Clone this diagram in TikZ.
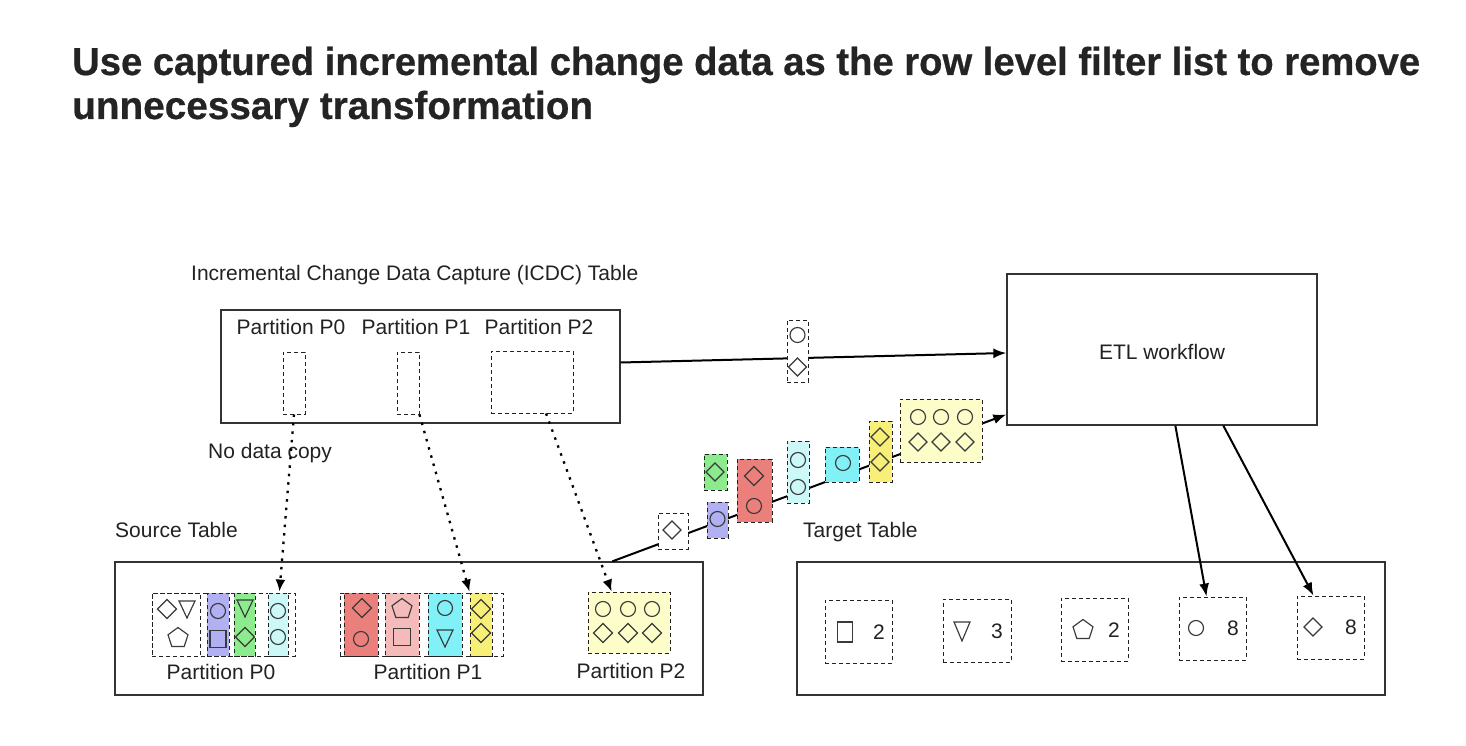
\documentclass[tikz,border=0pt]{standalone}
\usepackage{fontspec}
\setmainfont{Liberation Sans}
\newfontfamily\titlefont[FakeBold=0.6]{Liberation Sans Bold}
\usetikzlibrary{arrows.meta,fit,calc}
\definecolor{ink}{HTML}{222222}
\definecolor{titlec}{HTML}{242424}
\definecolor{boxc}{HTML}{333333}
\definecolor{shpc}{HTML}{3A3A3A}
\definecolor{lav}{HTML}{B0B0F2}
\definecolor{grn}{HTML}{8CEB8C}
\definecolor{redc}{HTML}{EB7F7B}
\definecolor{pinkc}{HTML}{F5BBBB}
\definecolor{cyanc}{HTML}{82F0F7}
\definecolor{lcyan}{HTML}{CCF8F8}
\definecolor{yel}{HTML}{F8EF78}
\definecolor{lyel}{HTML}{FDFDC9}
\newcommand\Dia[3][9.5]{\draw[shp] (#2,#3) +(0,-#1) -- +(#1,0) -- +(0,#1) -- +(-#1,0) -- cycle;}
\newcommand\Cir[3][7.5]{\draw[shp] (#2,#3) circle (#1);}
\newcommand\Tri[2]{\draw[shp] (#1,#2) +(-8,-8) -- +(8,-8) -- +(0,9) -- cycle;}
\newcommand\Pent[2]{\draw[shp] (#1,#2) +(0,-10.5) -- +(10,-3.2) -- +(6.2,8.5) -- +(-6.2,8.5) -- +(-10,-3.2) -- cycle;}
\newcommand\Sqr[4]{\draw[shp] (#1,#2) +(-#3/2,-#4/2) rectangle +(#3/2,#4/2);}
\begin{document}
\begin{tikzpicture}[x=1pt,y=-1pt,
  box/.style={draw=boxc, line width=1.3pt, inner sep=0},
  chip/.style={draw=ink, line width=0.9pt, dash pattern=on 4pt off 3pt, inner sep=0},
  lbl/.style={font=\fontsize{21}{25}\selectfont, text=ink, inner sep=0},
  shp/.style={draw=shpc, line width=1.15pt},
  arr/.style={draw=black, line width=2pt, -{Latex[length=13pt,width=10pt]}},
  dotarr/.style={draw=black, line width=2.3pt, dash pattern=on 2.5pt off 6pt, -{Latex[length=12pt,width=10pt]}}
]
\fill[white] (0,0) rectangle (1466,746);
\useasboundingbox (0,0) rectangle (1466,746);

% title
\node[anchor=base west, text=titlec, inner sep=0] (title1) at (72,75)
  {\resizebox{1348pt}{\height}{\fontsize{39}{47}\selectfont\titlefont Use captured incremental change data as the row level filter list to remove}};
\node[anchor=base west, text=titlec, inner sep=0] (title2) at (72,119)
  {\resizebox{521pt}{\height}{\fontsize{39}{47}\selectfont\titlefont unnecessary transformation}};

% labels
\node[lbl, anchor=base west] (icdclbl) at (191,280) {Incremental Change Data Capture (ICDC) Table};
\node[lbl, anchor=base west] (nocopy) at (208,458) {No data copy};
\node[lbl, anchor=base west] (srclbl) at (115,537) {Source Table};
\node[lbl, anchor=base west] (tgtlbl) at (803,537) {Target Table};

% main boxes
\node[box, fit={(221,310)(620,423)}] (icdc) {};
\node[box, fit={(1007,274)(1317,425)}] (etl) {};
\node[lbl] (etltxt) at (1162,352) {ETL workflow};
\node[box, fit={(115,562)(703,695)}] (src) {};
\node[box, fit={(797,562)(1385,695)}] (tgt) {};

% ICDC partitions
\node[lbl, anchor=base] (ip0) at (291,334) {Partition P0};
\node[lbl, anchor=base] (ip1) at (416,334) {Partition P1};
\node[lbl, anchor=base] (ip2) at (539,334) {Partition P2};
\node[chip, fit={(283,352)(305,414)}] (i0) {};
\node[chip, fit={(397,352)(419,414)}] (i1) {};
\node[chip, fit={(491,351)(573,413)}] (i2) {};

% Source partition P0
\node[chip, fit={(152,593)(295,656)}] (sp0) {};
\node[chip, fit={(152,593)(200,656)}] (s0a) {};
\Dia{167}{609}\Tri{187}{609}\Pent{178}{638}
\node[chip, fill=lav, fit={(207,593)(229,656)}] (s0b) {};
\Cir{218}{611}\Sqr{218}{639}{16}{17}
\node[chip, fill=grn, fit={(234,593)(255,656)}] (s0c) {};
\Tri{245}{608}\Dia{245}{637}
\node[chip, fill=lcyan, fit={(268,593)(288,656)}] (s0d) {};
\Cir{278}{611}\Cir{278}{637}
\node[lbl, anchor=base] (sp0lbl) at (221,679) {Partition P0};

% Source partition P1
\node[chip, fit={(340,593)(503,656)}] (sp1) {};
\node[chip, fill=redc, fit={(344,593)(378,656)}] (s1a) {};
\Dia{362}{608}\Cir{361}{639}
\node[chip, fill=pinkc, fit={(385,593)(419,656)}] (s1b) {};
\Pent{402}{609}\Sqr{402}{637}{17}{17}
\node[chip, fill=cyanc, fit={(428,593)(462,656)}] (s1c) {};
\Cir{445}{608}\Tri{445}{638}
\node[chip, fill=yel, fit={(470,593)(492,656)}] (s1d) {};
\Dia{481}{609}\Dia{481}{633}
\node[lbl, anchor=base] (sp1lbl) at (428,679) {Partition P1};

% Source partition P2
\node[chip, fill=lyel, fit={(588,592)(670,653)}] (sp2) {};
\Cir{603}{609}\Cir{628}{609}\Cir{652}{609}
\Dia{603}{633}\Dia{628}{633}\Dia{652}{633}
\node[lbl, anchor=base] (sp2lbl) at (631,678) {Partition P2};

% Target partitions
\node[chip, fit={(825,600)(892,663)}] (t1) {};
\Sqr{845}{632}{15}{20}
\node[lbl] (n1) at (879,632) {2};
\node[chip, fit={(943,599)(1011,662)}] (t2) {};
\draw[shp] (962,631) +(-8,-9) -- +(8,-9) -- +(0,10) -- cycle;
\node[lbl] (n2) at (997,631) {3};
\node[chip, fit={(1061,598)(1128,661)}] (t3) {};
\Pent{1083}{630}
\node[lbl] (n3) at (1114,630) {2};
\node[chip, fit={(1179,597)(1246,660)}] (t4) {};
\Cir{1196}{628}
\node[lbl] (n4) at (1233,628) {8};
\node[chip, fit={(1297,596)(1364,659)}] (t5) {};
\Dia[9]{1313}{627}
\node[lbl] (n5) at (1351,627) {8};

% connectors
\draw[dotarr] (i0.south) -- ($(sp0.north east)+(-16,-1)$);
\draw[dotarr] (i1.south east) -- ($(sp1.north east)+(-34,-1)$);
\draw[dotarr] ($(i2.south)+(14,0)$) -- ($(sp2.north west)+(24,0)$);
\draw[arr] ($(icdc.east)+(0,-4)$) -- ($(etl.west)+(0,3.5)$);
\draw[arr] ($(src.north west)+(498,0)$) -- ($(etl.west)+(0,65)$);
\draw[arr] ($(etl.south west)+(169,0)$) -- ($(t4.north)+(-6,0)$);
\draw[arr] ($(etl.south west)+(217,0)$) -- ($(t5.north)+(-17,0)$);

% chip on top arrow
\node[chip, fill=white, fit={(787,320)(808,382)}] (c0) {};
\Cir{797.5}{335}\Dia[9]{797.5}{367}

% chips on staircase arrow
\node[chip, fill=white, fit={(658,513)(688,549)}] (c1) {};
\Dia[9]{672}{530}
\node[chip, fill=lav, fit={(707,502)(728,538)}] (c2) {};
\Cir{717.5}{519}
\node[chip, fill=grn, fit={(704,454)(727,490)}] (c3) {};
\Dia[9]{715}{472}
\node[chip, fill=redc, fit={(737,459)(772,522)}] (c4) {};
\Dia{754}{476}\Cir{754}{506}
\node[chip, fill=lcyan, fit={(787,441)(809,503)}] (c5) {};
\Cir{798}{460}\Cir{798}{487}
\node[chip, fill=cyanc, fit={(825,447)(859,482)}] (c6) {};
\Cir{843}{463}
\node[chip, fill=yel, fit={(869,421)(892,482)}] (c7) {};
\Dia[9]{880}{437}\Dia[9]{880}{462}
\node[chip, fill=lyel, fit={(900,399)(982,462)}] (c8) {};
\Cir{918}{417}\Cir{941}{417}\Cir{965}{417}
\Dia[9]{918}{442}\Dia[9]{941}{442}\Dia[9]{965}{442}
\end{tikzpicture}
\end{document}
